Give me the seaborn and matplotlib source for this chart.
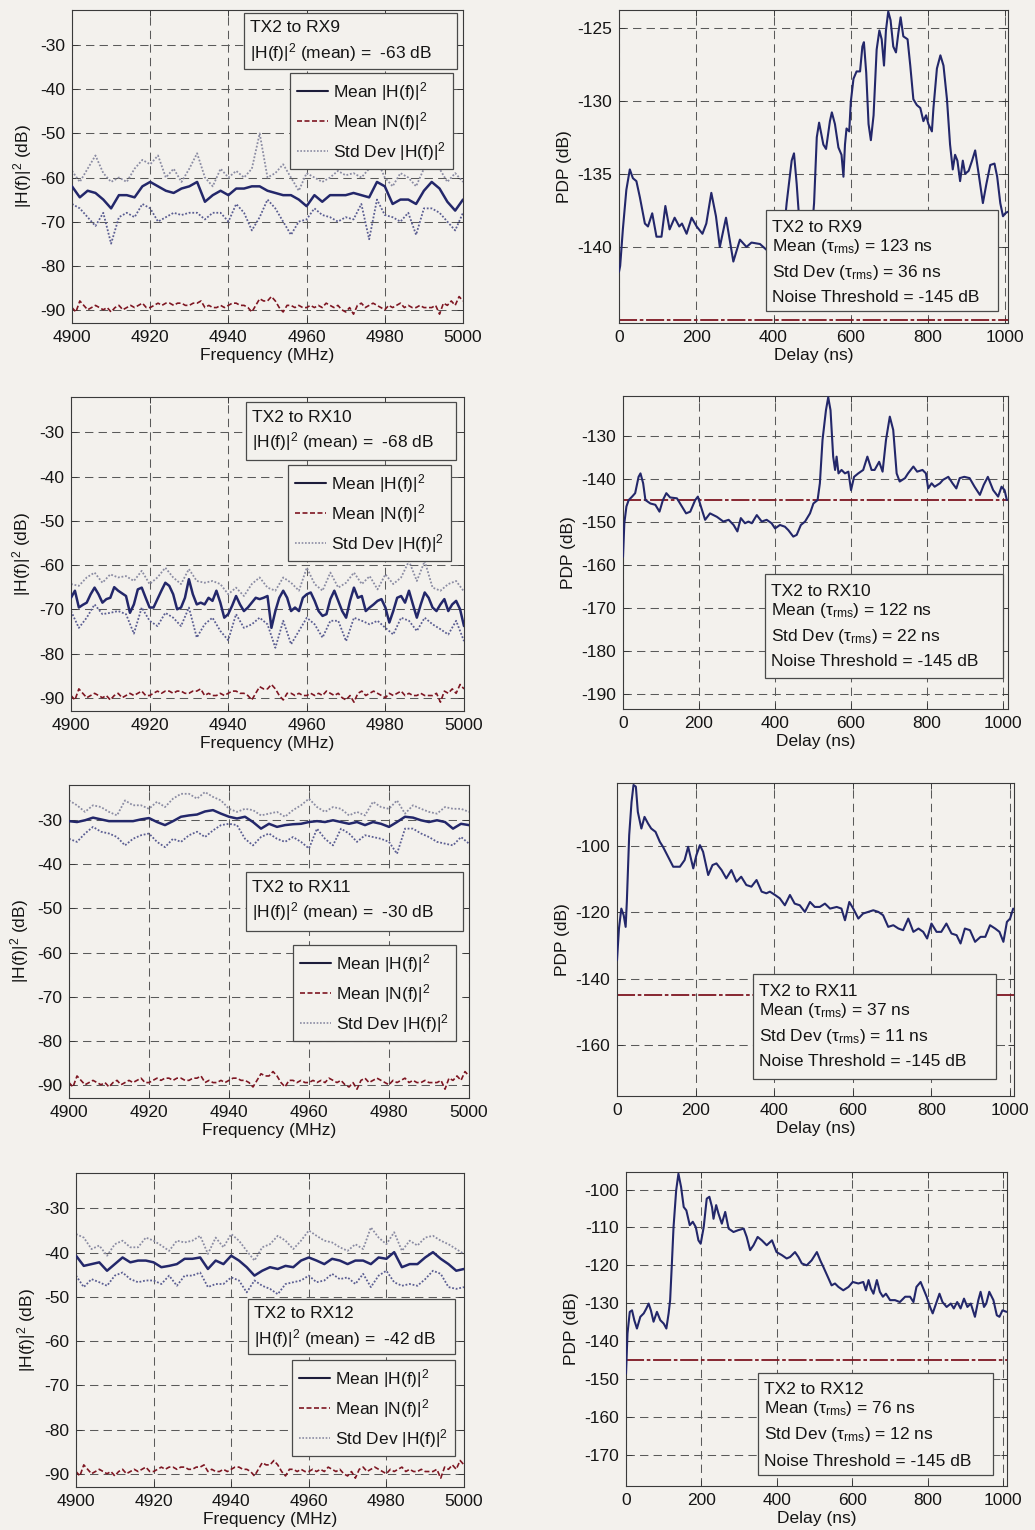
import numpy as np
import matplotlib
matplotlib.use("Agg")
import matplotlib.pyplot as plt
import seaborn as sns
from matplotlib.patches import Rectangle
from matplotlib.lines import Line2D

# ---------------------------------------------------------------- data
links = ["TX2 to RX9", "TX2 to RX10", "TX2 to RX11", "TX2 to RX12"]
h_mean_db = [-63, -68, -30, -42]
tau_mean_ns = [123, 122, 37, 76]
tau_std_ns = [36, 22, 11, 12]
noise_threshold_db = -145

freq_coarse = np.arange(4900, 5001, 2)   # 2 MHz steps
freq_fine = np.arange(4900, 5001, 1)     # 1 MHz steps

# mean |N(f)|^2, common to all links (1 MHz steps)
noise_mean = [
    -89.5, -90.5, -88.0, -89.0, -90.0, -89.5, -89.0, -89.5, -90.0, -89.5,
    -90.5, -89.5, -89.0, -90.0, -89.5, -89.0, -89.5, -89.0, -88.5, -89.5,
    -89.5, -89.0, -88.5, -89.0, -88.5, -88.5, -89.0, -88.5, -88.5, -89.0,
    -89.0, -88.5, -88.5, -88.0, -89.5, -89.0, -89.5, -89.5, -89.0, -89.5,
    -89.0, -88.5, -88.5, -89.0, -89.0, -89.5, -90.5, -89.0, -87.5, -88.0,
    -88.0, -87.0, -88.0, -89.5, -90.5, -89.0, -89.0, -89.5, -89.0, -89.5,
    -89.5, -89.0, -89.5, -89.0, -89.5, -88.5, -89.0, -89.5, -89.0, -90.0,
    -90.5, -89.5, -91.0, -89.0, -88.5, -89.5, -89.0, -88.5, -89.0, -89.5,
    -90.0, -89.0, -89.5, -89.0, -88.5, -89.5, -89.0, -89.5, -89.5, -89.0,
    -89.5, -89.5, -89.5, -89.0, -91.0, -88.5, -89.0, -88.0, -89.0, -87.0,
    -88.0]

# RX9 (2 MHz steps)
rx9_mean = [
    -62.0, -64.5, -63.0, -63.5, -65.0, -67.0, -64.0, -64.0, -64.5, -62.0,
    -61.0, -62.0, -63.0, -63.5, -62.5, -62.0, -61.0, -65.5, -64.0, -63.0,
    -64.0, -62.5, -62.5, -62.0, -62.0, -63.0, -63.5, -64.0, -64.0, -65.0,
    -66.5, -64.0, -65.5, -64.0, -64.0, -64.0, -63.5, -64.0, -64.5, -61.0,
    -62.0, -66.0, -65.0, -65.0, -66.0, -63.0, -61.0, -62.5, -65.5, -67.5,
    -65.0]
rx9_upper = [
    -58.5, -61.0, -58.0, -55.0, -59.0, -61.0, -60.0, -61.0, -58.0, -56.0,
    -57.0, -55.0, -60.0, -58.0, -61.0, -58.0, -54.5, -60.0, -62.0, -58.0,
    -60.0, -58.5, -60.0, -58.0, -50.0, -60.0, -59.0, -57.0, -60.0, -63.0,
    -59.0, -60.0, -61.0, -60.0, -58.5, -59.5, -59.0, -60.0, -58.0, -56.0,
    -60.0, -62.0, -59.0, -60.0, -62.0, -58.0, -56.0, -58.0, -61.0, -59.0,
    -61.0]
rx9_lower = [
    -66.0, -67.0, -69.0, -71.0, -68.0, -75.0, -69.0, -68.0, -69.0, -66.0,
    -67.0, -70.0, -69.0, -68.0, -68.5, -68.0, -68.0, -69.5, -68.0, -68.0,
    -70.0, -66.0, -68.0, -72.0, -69.0, -65.0, -67.0, -70.0, -73.0, -70.0,
    -69.5, -67.0, -68.5, -69.0, -70.0, -69.0, -69.5, -66.0, -74.0, -65.0,
    -68.5, -69.0, -70.0, -68.0, -73.0, -67.0, -67.0, -68.0, -70.0, -72.0,
    -68.0]

# RX10 (mean in 1 MHz steps, std bounds in 2 MHz steps)
rx10_mean = [
    -67.4, -65.8, -69.6, -69.0, -68.5, -66.6, -65.1, -66.6, -68.5, -67.7,
    -67.4, -65.0, -65.8, -66.4, -67.0, -70.8, -68.9, -65.5, -65.1, -67.4,
    -69.6, -69.6, -67.7, -65.8, -64.0, -64.7, -66.6, -70.0, -69.6, -67.4,
    -63.2, -66.6, -68.9, -68.5, -68.9, -67.4, -68.1, -65.8, -68.5, -71.9,
    -71.1, -69.2, -67.0, -68.9, -70.4, -69.6, -68.5, -67.4, -67.7, -67.4,
    -67.0, -74.2, -70.4, -67.4, -65.8, -67.4, -70.4, -69.6, -70.4, -67.4,
    -66.6, -66.2, -68.1, -70.4, -71.5, -71.1, -67.7, -65.8, -68.1, -70.4,
    -71.9, -68.1, -65.1, -67.4, -67.0, -70.4, -69.6, -68.9, -68.1, -67.7,
    -69.6, -73.0, -70.4, -67.4, -67.0, -68.5, -65.8, -68.9, -71.9, -68.9,
    -66.2, -67.4, -69.6, -70.4, -68.9, -67.7, -70.4, -68.9, -68.1, -70.0,
    -73.8]
rx10_upper = [
    -64.3, -64.7, -62.8, -61.7, -64.0, -62.1, -62.8, -62.5, -63.6, -61.3,
    -64.3, -62.8, -60.6, -62.8, -64.3, -60.9, -63.6, -64.0, -63.6, -64.3,
    -66.6, -65.1, -67.0, -64.3, -62.8, -65.1, -65.8, -62.8, -64.0, -65.8,
    -60.6, -64.3, -65.8, -61.7, -65.1, -64.0, -61.7, -64.3, -62.5, -65.5,
    -62.1, -64.3, -62.8, -59.1, -63.6, -59.1, -65.1, -65.8, -64.3, -63.6,
    -66.0]
rx10_lower = [
    -70.4, -74.2, -71.9, -68.9, -71.1, -70.8, -70.4, -71.1, -75.5, -69.6,
    -72.6, -73.8, -70.8, -71.9, -73.8, -69.6, -76.4, -73.4, -71.9, -74.9,
    -77.0, -71.1, -74.2, -73.4, -71.9, -73.4, -78.7, -72.6, -77.9, -74.9,
    -71.9, -73.4, -76.4, -72.6, -72.6, -77.2, -71.9, -72.6, -73.4, -72.6,
    -74.2, -75.7, -71.9, -72.6, -74.9, -71.9, -73.4, -74.5, -75.7, -72.6,
    -77.2]

# RX11 (2 MHz steps)
rx11_mean = [
    -30.2, -30.4, -30.0, -29.4, -29.8, -30.2, -30.2, -30.2, -30.2, -29.8,
    -29.5, -30.4, -31.1, -30.2, -29.2, -28.9, -28.7, -28.0, -27.7, -28.5,
    -29.2, -29.6, -29.2, -30.4, -31.9, -30.8, -31.5, -31.1, -30.9, -30.8,
    -30.4, -30.2, -30.4, -30.0, -30.4, -30.8, -30.4, -31.1, -30.4, -30.8,
    -31.5, -30.4, -29.2, -29.4, -30.0, -30.4, -30.0, -30.4, -31.9, -30.8,
    -31.1]
rx11_upper = [
    -25.5, -26.6, -28.1, -26.6, -27.0, -28.1, -28.9, -25.5, -26.6, -26.6,
    -27.4, -25.8, -27.0, -25.1, -24.0, -24.0, -25.1, -23.6, -24.7, -25.5,
    -27.4, -28.1, -27.4, -27.7, -28.9, -28.5, -28.1, -29.2, -27.7, -26.6,
    -25.1, -27.0, -28.1, -27.0, -27.4, -28.9, -28.1, -28.9, -25.8, -27.0,
    -27.4, -25.5, -28.5, -26.6, -27.4, -28.1, -28.5, -27.0, -27.4, -27.4,
    -28.1]
rx11_lower = [
    -34.2, -34.9, -33.0, -31.5, -32.6, -33.0, -33.8, -35.7, -34.2, -33.4,
    -33.0, -34.9, -36.1, -34.2, -34.9, -33.4, -32.6, -33.8, -32.3, -31.1,
    -30.8, -31.1, -34.2, -35.7, -33.8, -33.0, -34.2, -34.9, -33.8, -34.9,
    -36.4, -31.9, -34.2, -35.7, -31.9, -33.0, -34.9, -33.4, -33.8, -34.2,
    -34.9, -37.6, -31.9, -31.9, -33.0, -33.8, -34.9, -35.3, -35.7, -33.8,
    -35.3]

# RX12 (2 MHz steps)
rx12_mean = [
    -40.7, -43.0, -42.6, -42.2, -44.1, -42.6, -41.1, -42.2, -41.8, -41.8,
    -42.2, -43.3, -43.0, -42.6, -41.4, -41.4, -41.1, -43.7, -41.8, -42.6,
    -40.7, -41.8, -43.3, -45.2, -44.1, -43.3, -43.7, -43.0, -43.3, -41.8,
    -41.1, -41.8, -42.6, -41.4, -41.8, -42.6, -41.8, -41.8, -42.6, -41.1,
    -41.4, -39.9, -43.3, -42.6, -42.6, -41.1, -39.9, -41.4, -42.6, -44.1,
    -43.7]
rx12_upper = [
    -35.8, -36.6, -39.2, -38.4, -40.7, -38.1, -37.3, -38.8, -38.8, -36.6,
    -37.3, -38.4, -39.6, -37.3, -37.7, -37.3, -36.2, -40.3, -36.6, -38.8,
    -35.8, -37.3, -39.6, -41.8, -38.8, -38.1, -36.2, -37.3, -39.2, -37.3,
    -35.0, -36.2, -37.3, -37.7, -38.8, -39.6, -38.1, -39.2, -34.3, -36.6,
    -38.1, -35.4, -39.6, -37.3, -38.4, -36.6, -36.2, -37.3, -38.1, -39.2,
    -40.3]
rx12_lower = [
    -45.2, -47.8, -46.0, -46.7, -47.5, -45.2, -44.5, -46.0, -46.7, -46.3,
    -46.3, -47.1, -45.2, -47.5, -45.2, -45.2, -44.5, -47.8, -47.1, -47.1,
    -45.6, -46.3, -49.0, -46.3, -47.5, -48.2, -49.4, -47.1, -46.7, -46.3,
    -45.2, -46.7, -46.3, -44.8, -46.0, -45.6, -47.1, -44.8, -47.8, -45.2,
    -44.1, -46.7, -47.5, -47.1, -47.5, -46.0, -44.1, -44.8, -47.8, -48.2,
    -47.8]

# power delay profiles
rx9_delay = [
    0, 3, 10, 19, 28, 36, 45, 54, 67, 75, 86, 97, 110, 120, 131, 144, 156, 163,
    175, 188, 201, 216, 226, 239, 251, 261, 277, 296, 313, 330, 343, 365, 382,
    400, 420, 434, 447, 453, 460, 464, 475, 490, 505, 512, 518, 529, 536, 546,
    551, 559, 568, 576, 581, 585, 589, 596, 600, 607, 615, 624, 630, 634, 640,
    646, 652, 659, 667, 674, 680, 686, 691, 697, 703, 710, 717, 723, 729, 736,
    747, 754, 762, 771, 780, 788, 795, 801, 810, 814, 823, 832, 840, 849, 857,
    864, 870, 876, 883, 890, 896, 905, 914, 922, 931, 942, 951, 961, 972, 979,
    987, 994, 1000, 1006]
rx9_pdp = [
    -141.7, -141.3, -138.8, -136.1, -134.7, -135.3, -135.5, -136.6, -138.4,
    -138.6, -137.7, -139.3, -139.3, -137.2, -138.8, -138.0, -138.6, -138.4,
    -139.1, -138.0, -138.6, -139.1, -138.4, -136.3, -137.9, -140.0, -138.0,
    -141.0, -139.5, -140.0, -139.7, -139.8, -140.2, -140.4, -140.8, -137.0,
    -134.1, -133.6, -135.7, -137.2, -141.0, -142.0, -137.0, -132.5, -131.5,
    -133.0, -133.3, -131.4, -130.8, -131.6, -133.2, -133.7, -135.2, -133.0,
    -131.9, -132.1, -130.1, -128.5, -128.0, -128.0, -126.3, -126.0, -128.1,
    -131.6, -132.7, -131.0, -126.5, -125.2, -125.8, -127.6, -125.2, -123.9,
    -124.5, -126.3, -126.7, -125.4, -124.3, -125.6, -125.8, -127.6, -129.9,
    -130.3, -130.5, -131.4, -131.0, -131.6, -132.1, -130.5, -127.8, -126.9,
    -127.6, -129.9, -133.0, -134.7, -133.7, -134.1, -135.5, -134.1, -135.0,
    -134.8, -134.1, -133.4, -135.0, -137.0, -135.7, -134.4, -134.3, -135.2,
    -137.0, -137.9, -137.7, -137.6]

rx10_delay = [
    0, 3.5, 9, 15, 24, 32, 41, 46, 53, 59, 72, 85, 96, 105, 114, 124, 142, 155,
    166, 177, 190, 197, 205, 216, 229, 247, 264, 278, 291, 301, 310, 321, 330,
    339, 352, 365, 378, 391, 400, 413, 426, 435, 448, 457, 468, 479, 492, 501,
    512, 518, 525, 534, 540, 546, 553, 558, 562, 567, 575, 584, 593, 600, 608,
    619, 632, 643, 654, 662, 674, 683, 692, 702, 711, 720, 728, 742, 750, 764,
    774, 788, 797, 803, 812, 820, 834, 842, 856, 867, 877, 886, 898, 912, 925,
    939, 949, 960, 974, 987, 996, 1004, 1010]
rx10_pdp = [
    -158.1, -150.3, -146.4, -144.9, -144.1, -143.3, -139.5, -138.7, -141.0,
    -144.9, -145.7, -146.0, -147.6, -144.9, -143.3, -144.3, -144.5, -146.4,
    -148.0, -147.6, -144.9, -144.1, -146.4, -149.5, -148.0, -148.8, -149.9,
    -149.5, -150.7, -152.2, -149.1, -150.3, -149.9, -150.3, -148.4, -149.9,
    -149.5, -150.3, -151.5, -150.7, -151.1, -151.9, -153.4, -153.0, -150.7,
    -149.9, -148.0, -145.7, -144.9, -141.0, -130.9, -124.0, -121.0, -124.0,
    -134.8, -137.9, -134.8, -138.7, -137.9, -138.7, -138.3, -142.6, -139.5,
    -138.7, -137.9, -134.8, -137.9, -137.9, -136.0, -138.3, -130.9, -125.5,
    -128.6, -138.7, -140.6, -139.8, -138.7, -137.1, -138.3, -137.9, -138.7,
    -142.2, -141.0, -141.8, -141.0, -140.2, -139.5, -141.0, -142.2, -139.8,
    -139.5, -139.8, -141.8, -143.7, -141.4, -139.5, -142.6, -144.1, -141.8,
    -142.6, -144.9]

rx11_delay = [
    0, 5, 11, 17, 22, 25, 31, 37, 42, 48, 53, 62, 70, 79, 87, 98, 109, 117,
    130, 143, 160, 172, 181, 194, 202, 211, 219, 232, 243, 253, 266, 278, 291,
    304, 316, 329, 342, 355, 368, 380, 389, 402, 414, 427, 440, 452, 465, 478,
    491, 503, 516, 529, 542, 559, 571, 580, 591, 601, 614, 626, 639, 652, 665,
    677, 690, 703, 716, 728, 741, 754, 767, 779, 789, 800, 813, 825, 838, 851,
    864, 874, 885, 898, 911, 925, 937, 949, 962, 973, 983, 992, 1000, 1008]
rx11_pdp = [
    -134.4, -124.9, -118.9, -120.9, -124.4, -116.9, -96.8, -86.8, -81.7,
    -82.2, -89.8, -94.8, -91.3, -93.3, -94.8, -95.8, -98.8, -100.3, -103.3,
    -106.3, -106.3, -104.3, -100.3, -106.8, -102.8, -99.8, -101.8, -108.8,
    -105.8, -105.3, -107.3, -109.8, -107.3, -110.8, -109.3, -111.8, -112.3,
    -110.3, -113.8, -114.3, -113.8, -114.8, -115.8, -117.9, -114.8, -117.4,
    -117.9, -119.9, -116.9, -118.4, -118.4, -117.4, -118.9, -118.4, -118.9,
    -122.4, -116.9, -118.9, -121.9, -120.4, -119.9, -119.4, -119.9, -120.9,
    -124.4, -123.9, -124.9, -125.4, -121.9, -125.9, -124.9, -125.9, -127.9,
    -123.4, -125.9, -125.9, -123.4, -126.4, -126.9, -129.4, -124.9, -125.4,
    -128.9, -127.4, -127.4, -123.9, -124.9, -125.9, -128.9, -122.9, -121.9,
    -118.9]

rx12_delay = [
    0, 4, 10, 16, 22, 29, 38, 47, 54, 60, 66, 73, 82, 91, 100, 107, 113, 117,
    122, 126, 133, 139, 146, 153, 160, 169, 177, 185, 192, 198, 206, 214, 221,
    228, 232, 239, 245, 254, 263, 272, 285, 298, 312, 320, 329, 338, 349, 360,
    373, 387, 399, 413, 426, 435, 448, 457, 466, 479, 492, 506, 515, 523, 537,
    545, 554, 563, 576, 590, 601, 616, 629, 636, 643, 649, 656, 665, 673, 681,
    689, 700, 713, 726, 740, 753, 762, 770, 781, 790, 797, 806, 813, 822, 831,
    839, 850, 861, 869, 878, 887, 896, 905, 914, 925, 934, 940, 949, 955, 963,
    974, 983, 990, 998, 1009]
rx12_pdp = [
    -148.6, -138.0, -132.3, -131.9, -134.5, -136.7, -133.6, -132.7, -131.4,
    -130.1, -131.9, -134.9, -132.3, -134.5, -135.4, -136.7, -132.7, -129.2,
    -118.7, -109.9, -100.2, -95.8, -99.3, -104.6, -105.5, -109.4, -108.5,
    -109.9, -113.4, -114.3, -109.9, -102.4, -101.9, -104.6, -107.7, -104.1,
    -106.3, -109.0, -105.9, -110.3, -111.2, -110.7, -110.3, -112.5, -116.0,
    -114.7, -112.5, -113.4, -114.7, -113.4, -116.5, -117.3, -118.2, -117.8,
    -116.5, -117.8, -119.5, -120.0, -118.7, -116.5, -118.7, -120.4, -123.5,
    -125.3, -124.8, -125.7, -126.6, -125.7, -124.4, -124.8, -124.4, -126.6,
    -123.9, -126.1, -127.5, -123.9, -127.0, -128.3, -127.5, -129.2, -129.2,
    -129.7, -128.3, -128.3, -129.7, -125.7, -124.4, -126.6, -128.3, -131.0,
    -132.7, -130.1, -127.5, -129.7, -131.0, -130.1, -131.4, -129.7, -131.4,
    -128.8, -131.0, -130.1, -133.6, -129.2, -127.0, -131.0, -130.1, -127.0,
    -129.2, -133.2, -133.6, -131.9, -132.3]

freq_series = [
    (freq_coarse, rx9_mean, rx9_upper, rx9_lower),
    (freq_fine, rx10_mean, rx10_upper, rx10_lower),
    (freq_coarse, rx11_mean, rx11_upper, rx11_lower),
    (freq_coarse, rx12_mean, rx12_upper, rx12_lower),
]
pdp_series = [(rx9_delay, rx9_pdp), (rx10_delay, rx10_pdp),
              (rx11_delay, rx11_pdp), (rx12_delay, rx12_pdp)]

# ---------------------------------------------------------------- layout
W, H = 1035, 1530
BG = "#f3f1ed"
NAVY = "#23276a"
RED = "#7e1622"
STD_UP = "#8b8ca3"
STD_LO = "#5b5e92"
FRAME = "#3a3a3a"
GRIDC = "#5a5a5a"

# axes boxes in pixels: (left, top, right, bottom)
left_boxes = [(72, 10, 463, 323), (71, 397, 464, 711),
              (69, 785, 469, 1098), (76, 1173, 464, 1487)]
right_boxes = [(619, 10, 1008, 323), (623, 396, 1008, 709),
               (617, 783, 1014, 1096), (626, 1172, 1007, 1486)]
left_info = [(244, 13, 457, 69), (246, 402, 456, 460),
             (246, 872, 463, 931), (248, 1299, 455, 1354)]
left_legend_at = [(290, 73), (288, 465), (293, 945), (292, 1360)]
right_info = [(766, 210, 998, 311), (765, 574, 1003, 678),
              (753, 974, 996, 1079), (758, 1373, 993, 1475)]

right_xmax = [1007, 1013, 1010, 1010]
right_ylim = [(-145.2, -123.8), (-193.5, -120.7), (-175.3, -81.1), (-178.3, -95.35)]
right_yticks = [[-140, -135, -130, -125],
                list(range(-190, -129, 10)),
                [-160, -140, -120, -100],
                list(range(-170, -99, 10))]

sns.set_theme(style="ticks")
plt.rcParams.update({
    "font.family": ["Liberation Sans", "DejaVu Sans"],
    "mathtext.fontset": "custom",
    "mathtext.rm": "Liberation Sans",
    "mathtext.it": "Liberation Sans",
    "mathtext.default": "regular",
    "axes.unicode_minus": False,
    "axes.edgecolor": FRAME,
    "axes.linewidth": 0.8,
    "axes.facecolor": BG,
    "figure.facecolor": BG,
    "text.color": "#151515",
    "axes.labelcolor": "#151515",
    "xtick.color": FRAME,
    "ytick.color": FRAME,
    "xtick.labelcolor": "#151515",
    "ytick.labelcolor": "#151515",
})
FS = 12.5

fig = plt.figure(figsize=(W / 100, H / 100), dpi=100)


def add_axes(box):
    l, t, r, b = box
    return fig.add_axes([l / W, 1 - b / H, (r - l) / W, (b - t) / H])


def to_axes(box, x, y):
    l, t, r, b = box
    return (x - l) / (r - l), (b - y) / (b - t)


def style_axes(ax):
    ax.set_facecolor(BG)
    for s in ax.spines.values():
        s.set_visible(True)
        s.set_color(FRAME)
        s.set_linewidth(0.8)
    ax.set_axisbelow(True)
    ax.grid(True, color=GRIDC, linewidth=0.75, linestyle=(0, (8, 5)))
    ax.tick_params(direction="in", top=True, right=True, length=4,
                   width=0.7, labelsize=FS, pad=5)


def info_box(ax, box, rect, lines, offsets):
    x0, y1 = to_axes(box, rect[0], rect[1])
    x1, y0 = to_axes(box, rect[2], rect[3])
    ax.add_patch(Rectangle((x0, y0), x1 - x0, y1 - y0, transform=ax.transAxes,
                           facecolor=BG, edgecolor="#4a4a4a", linewidth=0.9,
                           zorder=5, clip_on=False))
    for txt, off in zip(lines, offsets):
        tx, ty = to_axes(box, rect[0] + 6, rect[1] + off)
        ax.text(tx, ty, txt, transform=ax.transAxes, fontsize=FS,
                va="center", ha="left", zorder=6)


legend_handles = [
    Line2D([], [], color="#1c1c3a", lw=1.5, linestyle="-"),
    Line2D([], [], color=RED, lw=1.2, linestyle=(0, (3, 1.5))),
    Line2D([], [], color=STD_UP, lw=1.2, linestyle=(0, (1, 1))),
]
legend_labels = [r"Mean |H(f)|$^2$", r"Mean |N(f)|$^2$", r"Std Dev |H(f)|$^2$"]

for i in range(4):
    # ---- frequency response panel
    box = left_boxes[i]
    ax = add_axes(box)
    style_axes(ax)
    fr, mean, upper, lower = freq_series[i]
    sns.lineplot(x=freq_fine, y=noise_mean, ax=ax, color=RED, lw=1.2,
                 linestyle=(0, (3, 1.5)), zorder=2)
    sns.lineplot(x=freq_coarse, y=upper, ax=ax, color=STD_UP, lw=1.3,
                 linestyle=(0, (1, 1)), zorder=2)
    sns.lineplot(x=freq_coarse, y=lower, ax=ax, color=STD_LO, lw=1.3,
                 linestyle=(0, (1, 1)), zorder=2)
    sns.lineplot(x=fr, y=mean, ax=ax, color=NAVY, lw=1.8, zorder=3)
    ax.set_xlim(4900, 5000)
    ax.set_ylim(-93, -22)
    ax.set_xticks(range(4900, 5001, 20))
    ax.set_yticks(range(-90, -29, 10))
    ax.set_xlabel("Frequency (MHz)", fontsize=FS, labelpad=2)
    ax.set_ylabel(r"|H(f)|$^2$ (dB)", fontsize=FS, labelpad=4)

    info_box(ax, box, left_info[i],
             [links[i], r"|H(f)|$^2$ (mean) =  %d dB" % h_mean_db[i]],
             [15, 40])
    lx, ly = to_axes(box, *left_legend_at[i])
    leg = ax.legend(legend_handles, legend_labels, loc="upper left",
                    bbox_to_anchor=(lx, ly), borderaxespad=0, fontsize=FS,
                    frameon=True, fancybox=False, framealpha=1,
                    facecolor=BG, edgecolor="#4a4a4a", handlelength=1.8,
                    handletextpad=0.3, labelspacing=0.4, borderpad=0.4)
    leg.get_frame().set_linewidth(0.9)
    leg.set_zorder(7)

    # ---- power delay profile panel
    box = right_boxes[i]
    ax = add_axes(box)
    style_axes(ax)
    d, p = pdp_series[i]
    ax.axhline(noise_threshold_db, color=RED, lw=1.3,
               linestyle=(0, (10, 1.5, 2, 1.5)), zorder=2)
    sns.lineplot(x=d, y=p, ax=ax, color=NAVY, lw=1.5, zorder=3)
    ax.set_xlim(0, right_xmax[i])
    ax.set_ylim(*right_ylim[i])
    ax.set_xticks(range(0, 1001, 200))
    ax.set_yticks(right_yticks[i])
    ax.set_xlabel("Delay (ns)", fontsize=FS, labelpad=2)
    ax.set_ylabel("PDP (dB)", fontsize=FS, labelpad=4)
    info_box(ax, box, right_info[i],
             [links[i],
              r"Mean ($\tau_{rms}$) = %d ns" % tau_mean_ns[i],
              r"Std Dev ($\tau_{rms}$) = %d ns" % tau_std_ns[i],
              "Noise Threshold = %d dB" % noise_threshold_db],
             [17, 36, 62, 88])

fig.savefig("out.png", dpi=100, facecolor=BG)
